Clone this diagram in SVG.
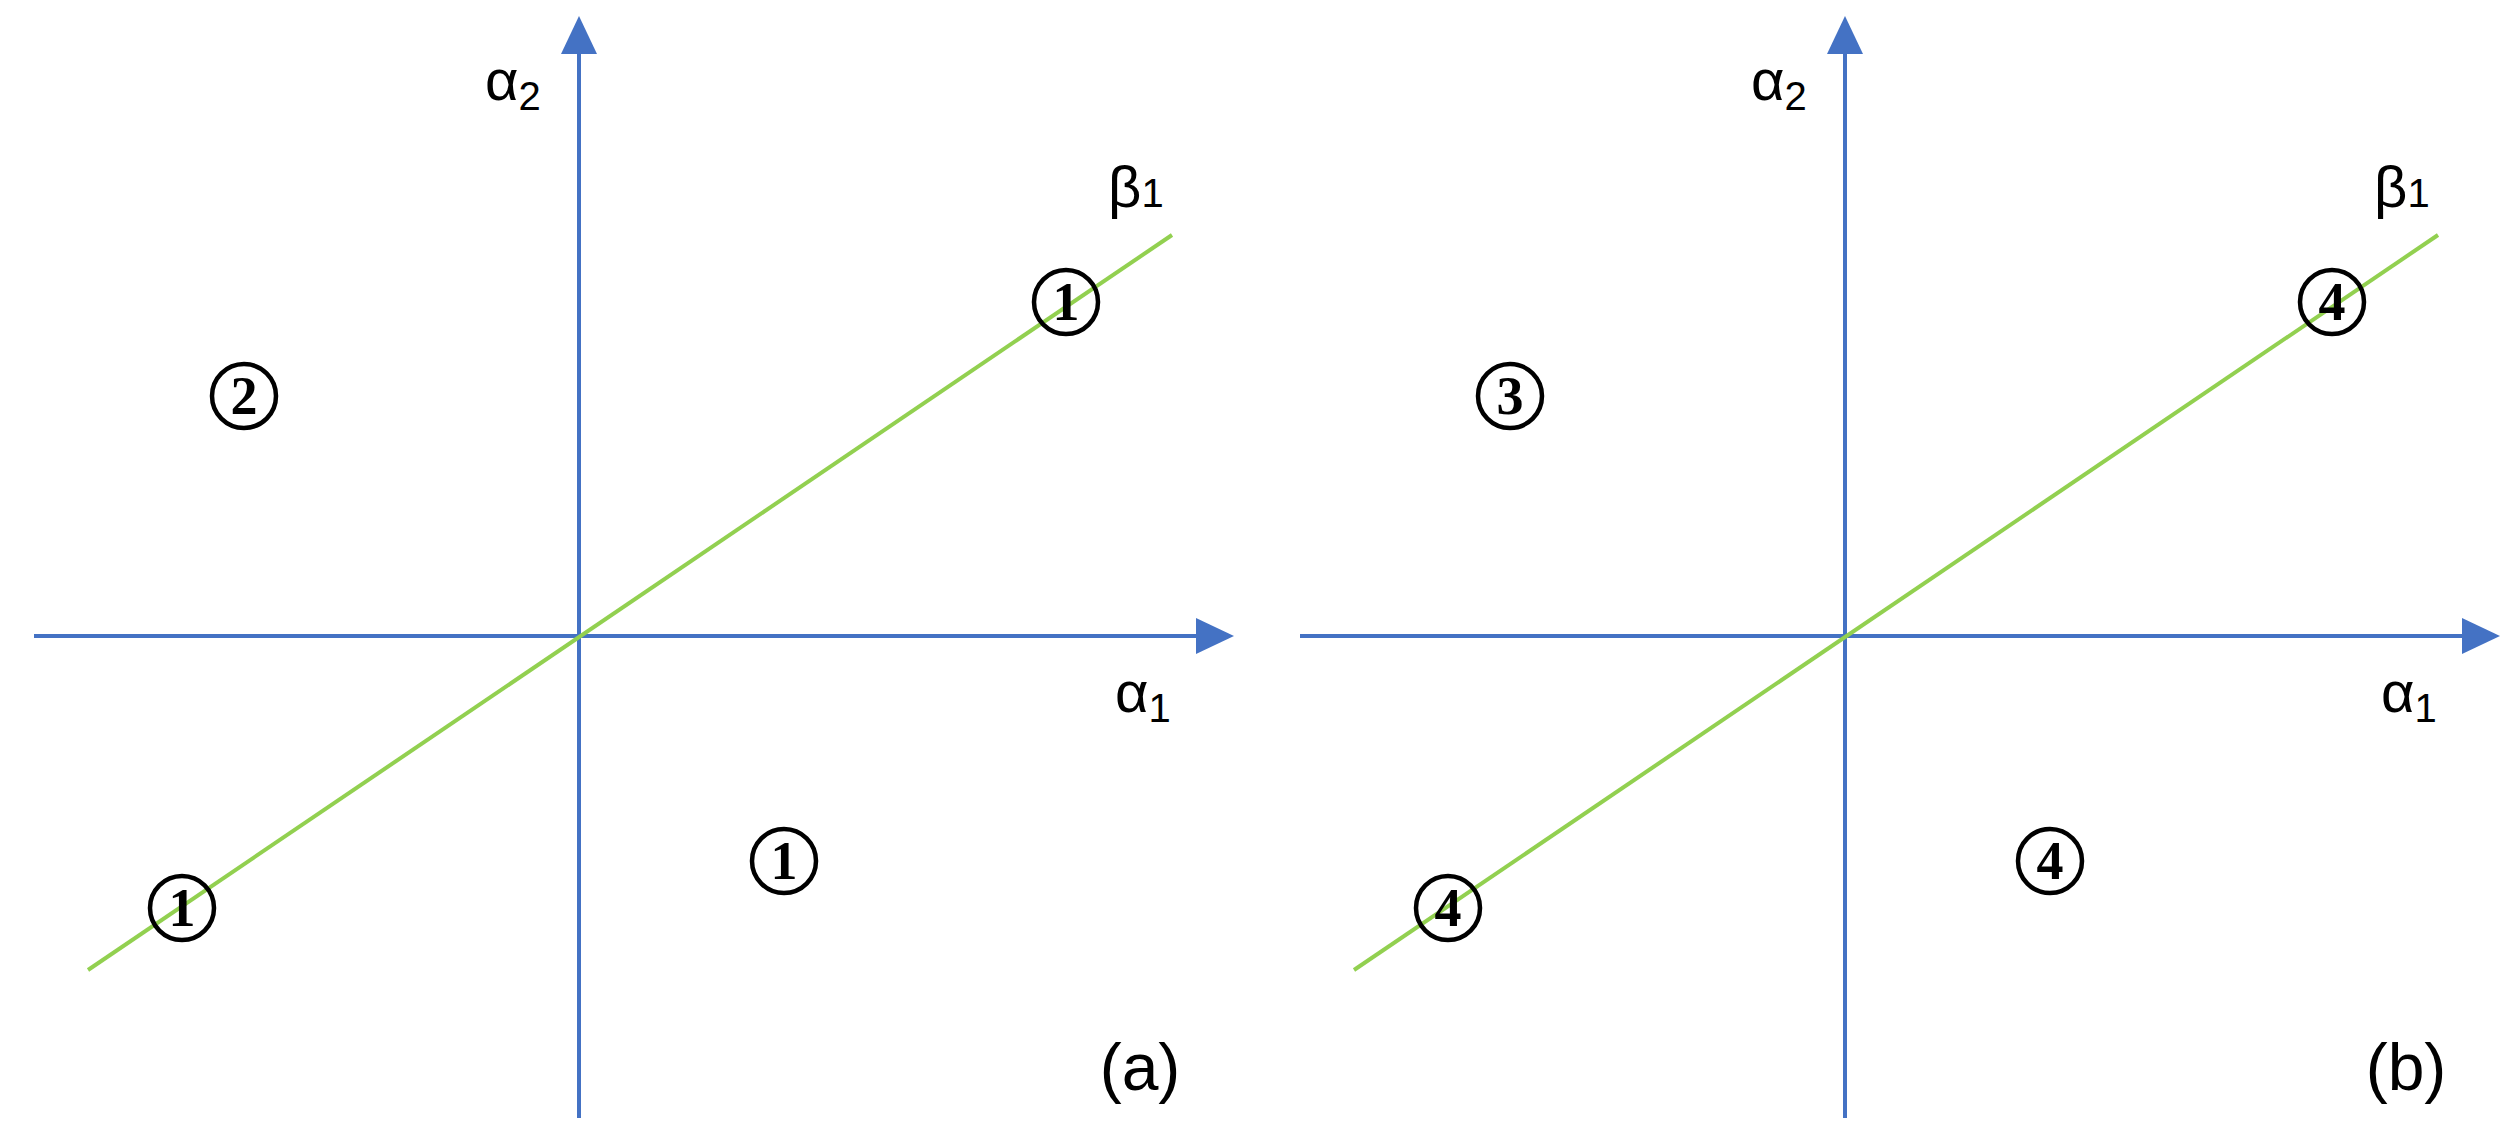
<svg xmlns="http://www.w3.org/2000/svg" width="2515" height="1148" viewBox="0 0 2515 1148">
<style>
.ax{stroke:#4472C4;stroke-width:4;fill:none}
.gr{stroke:#92D050;stroke-width:4;fill:none}
.ah{fill:#4472C4}
.t{font-family:"Liberation Sans",Arial,sans-serif;fill:#000}
.c{fill:none;stroke:#000;stroke-width:4.5}
.n{font-family:"Liberation Serif","Times New Roman",serif;font-weight:bold;font-size:54px;text-anchor:middle;fill:#000}
</style>
<defs>
<g id="panel">
<g id="connectors">
<line class="ax" x1="34" y1="636" x2="1200" y2="636"/>
<polygon class="ah" points="1234,636 1196,618 1196,654"/>
<line class="ax" x1="579" y1="1118" x2="579" y2="50"/>
<polygon class="ah" points="579,16 561,54 597,54"/>
<line class="gr" x1="88" y1="970" x2="1172" y2="235"/>
</g>
<text class="t" x="485" y="100" font-size="58">α<tspan font-size="40" dy="10">2</tspan></text>
<text class="t" x="1115" y="712" font-size="58">α<tspan font-size="40" dy="10">1</tspan></text>
<text class="t" x="1108" y="207" font-size="58">β<tspan font-size="40" dy="0">1</tspan></text>
</g>
</defs>
<rect width="2515" height="1148" fill="#fff"/>
<g id="panel-a">
<use href="#panel"/>
<g id="a-c1"><circle class="c" cx="1066" cy="302" r="32"/><text class="n" x="1066" y="320">1</text></g>
<g id="a-c2"><circle class="c" cx="244" cy="396" r="32"/><text class="n" x="244" y="414">2</text></g>
<g id="a-c3"><circle class="c" cx="784" cy="861" r="32"/><text class="n" x="784" y="879">1</text></g>
<g id="a-c4"><circle class="c" cx="182" cy="908" r="32"/><text class="n" x="182" y="926">1</text></g>
<text class="t" x="1140" y="1090" font-size="66" text-anchor="middle">(a)</text>
</g>
<g id="panel-b" transform="translate(1266,0)">
<use href="#panel"/>
<g id="b-c1"><circle class="c" cx="1066" cy="302" r="32"/><text class="n" x="1066" y="320">4</text></g>
<g id="b-c2"><circle class="c" cx="244" cy="396" r="32"/><text class="n" x="244" y="414">3</text></g>
<g id="b-c3"><circle class="c" cx="784" cy="861" r="32"/><text class="n" x="784" y="879">4</text></g>
<g id="b-c4"><circle class="c" cx="182" cy="908" r="32"/><text class="n" x="182" y="926">4</text></g>
<text class="t" x="1140" y="1090" font-size="66" text-anchor="middle">(b)</text>
</g>
</svg>
